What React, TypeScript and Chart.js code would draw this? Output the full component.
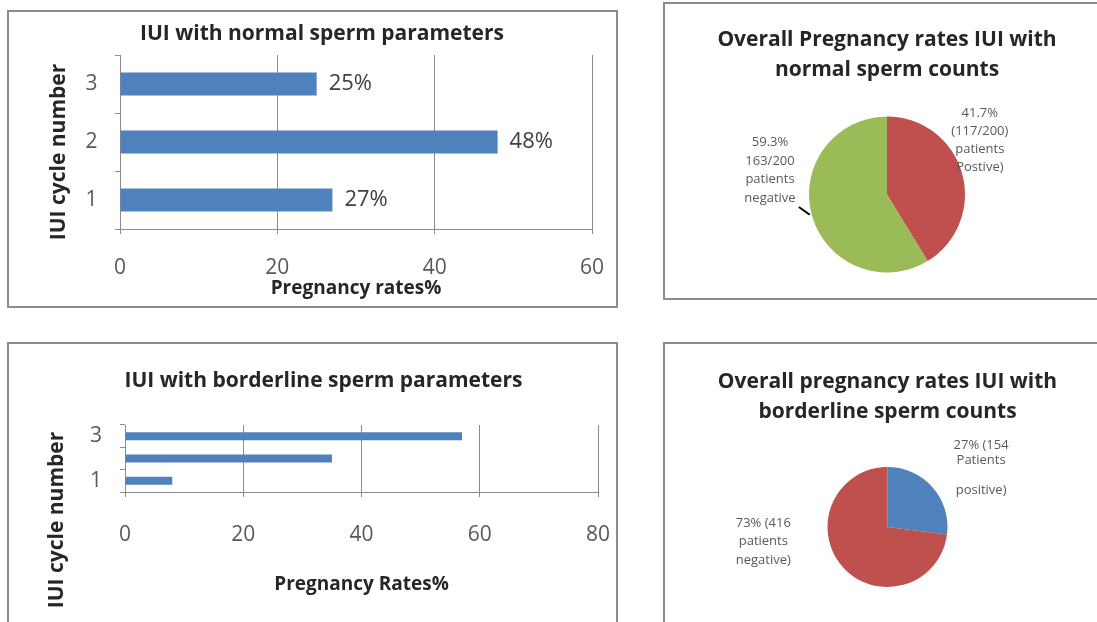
import React, { useEffect, useRef } from 'react';
import { Chart, registerables } from 'chart.js';

Chart.register(...registerables);

// ---------- data ----------
const cycleAxisTitle = 'IUI cycle number';

const normalTitle = 'IUI with normal sperm parameters';
const normalCycles = ['1', '2', '3'];
const normalRates = [27, 48, 25];
const normalRateLabels = ['27%', '48%', '25%'];
const normalAxisMax = 60;
const normalAxisStep = 20;
const normalXTitle = 'Pregnancy rates%';

const borderlineTitle = 'IUI with borderline sperm parameters';
const borderlineCycles = ['1', '2', '3'];
const borderlineRates = [8, 35, 57];
const borderlineAxisMax = 80;
const borderlineAxisStep = 20;
const borderlineXTitle = 'Pregnancy Rates%';

const normalPieTitle = ['Overall Pregnancy rates IUI with', 'normal sperm counts'];
const normalPieSlices = ['Positive', 'Negative'];
const normalPieValues = [41.7, 59.3];
const normalPieTexts = [
  ['41.7%', '(117/200)', 'patients', 'Postive)'],
  ['59.3%', '163/200', 'patients', 'negative'],
];

const borderPieTitle = ['Overall pregnancy rates IUI with', 'borderline sperm counts'];
const borderPieSlices = ['Positive', 'Negative'];
const borderPieValues = [27, 73];
const borderPieTexts = [
  ['27% (154', 'Patients', '', 'positive)'],
  ['73% (416', 'patients', 'negative)'],
];

// ---------- styles ----------
const FONT = "'Open Sans', sans-serif";
const BLUE = '#4f81bd';
const RED = '#c0504d';
const GREEN = '#9bbb59';
const TITLE_COLOR = '#262626';
const TICK_COLOR = '#595959';
const GRID_COLOR = '#8c8c8c';

// ---------- plugins ----------
const barValueLabels = {
  id: 'barValueLabels',
  afterDatasetsDraw(chart: any, _a: any, opts: any) {
    if (!opts || !opts.labels) return;
    const ctx = chart.ctx;
    const meta = chart.getDatasetMeta(0);
    ctx.save();
    ctx.font = `${opts.size}px ${FONT}`;
    ctx.fillStyle = opts.color;
    ctx.textAlign = 'left';
    ctx.textBaseline = 'middle';
    meta.data.forEach((bar: any, i: number) => {
      ctx.fillText(opts.labels[i], bar.x + opts.offset, bar.y);
    });
    ctx.restore();
  },
};

const sideTitle = {
  id: 'sideTitle',
  afterDraw(chart: any, _a: any, opts: any) {
    if (!opts || !opts.text) return;
    const ctx = chart.ctx;
    ctx.save();
    ctx.translate(opts.x, opts.y);
    ctx.rotate(-Math.PI / 2);
    ctx.font = `bold ${opts.size}px ${FONT}`;
    ctx.fillStyle = opts.color;
    ctx.textAlign = 'center';
    ctx.textBaseline = 'middle';
    ctx.fillText(opts.text, 0, 0);
    ctx.restore();
  },
};

const pieCallouts = {
  id: 'pieCallouts',
  afterDatasetsDraw(chart: any, _a: any, opts: any) {
    if (!opts || !opts.items) return;
    const ctx = chart.ctx;
    const meta = chart.getDatasetMeta(0);
    const arc = meta.data[0];
    const cx = arc.x;
    const cy = arc.y;
    const r = arc.outerRadius;
    ctx.save();
    ctx.font = `${opts.size}px ${FONT}`;
    ctx.fillStyle = opts.color;
    ctx.textAlign = 'center';
    ctx.textBaseline = 'middle';
    opts.items.forEach((item: any) => {
      const bx = cx + item.dx * r;
      const by = cy + item.dy * r;
      const total = (item.lines.length - 1) * item.lineHeight;
      item.lines.forEach((ln: string, k: number) => {
        ctx.fillText(ln, bx, by - total / 2 + k * item.lineHeight);
      });
      if (item.leader) {
        ctx.beginPath();
        ctx.strokeStyle = '#000';
        ctx.lineWidth = 2;
        ctx.moveTo(cx + item.leader[0] * r, cy + item.leader[1] * r);
        ctx.lineTo(cx + item.leader[2] * r, cy + item.leader[3] * r);
        ctx.stroke();
      }
    });
    ctx.restore();
  },
};

// ---------- configs ----------
function normalBarConfig(): any {
  return {
    type: 'bar',
    data: {
      labels: normalCycles,
      datasets: [
        { data: normalRates, backgroundColor: BLUE, barPercentage: 0.4, categoryPercentage: 1 },
      ],
    },
    plugins: [barValueLabels, sideTitle],
    options: {
      indexAxis: 'y',
      responsive: false,
      animation: false,
      layout: { padding: { left: 44, right: 25, top: 0, bottom: 0 } },
      plugins: {
        legend: { display: false },
        tooltip: { enabled: false },
        title: {
          display: true,
          text: normalTitle,
          color: TITLE_COLOR,
          font: { family: FONT, size: 21, weight: 'bold', lineHeight: 1.2 },
          padding: { top: 10, bottom: 8.8 },
        },
        barValueLabels: { labels: normalRateLabels, size: 22, color: '#404040', offset: 12 },
        sideTitle: { text: cycleAxisTitle, x: 51, y: 141, size: 21, color: TITLE_COLOR },
      },
      scales: {
        x: {
          min: 0,
          max: normalAxisMax,
          ticks: { stepSize: normalAxisStep, color: TICK_COLOR, padding: 21, font: { family: FONT, size: 21 } },
          grid: { color: GRID_COLOR, tickLength: 5 },
          border: { color: GRID_COLOR },
          title: {
            display: true,
            text: normalXTitle,
            color: TITLE_COLOR,
            font: { family: FONT, size: 19, weight: 'bold', lineHeight: 1.2 },
            padding: { top: 0, bottom: 7 },
          },
          afterFit: (s: any) => {
            s.height = 78;
            s.paddingLeft = 0;
            s.paddingRight = 0;
          },
        },
        y: {
          reverse: true,
          ticks: { color: TICK_COLOR, padding: 17.5, font: { family: FONT, size: 21 } },
          grid: { drawOnChartArea: false, color: GRID_COLOR, tickLength: 5 },
          border: { color: GRID_COLOR },
          afterFit: (s: any) => { s.width = 68; },
        },
      },
    },
  };
}

function borderlineBarConfig(): any {
  return {
    type: 'bar',
    data: {
      labels: borderlineCycles,
      datasets: [
        { data: borderlineRates, backgroundColor: BLUE, barPercentage: 0.36, categoryPercentage: 1 },
      ],
    },
    plugins: [sideTitle],
    options: {
      indexAxis: 'y',
      responsive: false,
      animation: false,
      layout: { padding: { left: 41, right: 19, top: 0, bottom: 0 } },
      plugins: {
        legend: { display: false },
        tooltip: { enabled: false },
        title: {
          display: true,
          text: borderlineTitle,
          color: TITLE_COLOR,
          font: { family: FONT, size: 21, weight: 'bold', lineHeight: 1.2 },
          padding: { top: 25.4, bottom: 31.4 },
        },
        sideTitle: { text: cycleAxisTitle, x: 49, y: 177, size: 21, color: TITLE_COLOR },
      },
      scales: {
        x: {
          min: 0,
          max: borderlineAxisMax,
          ticks: { stepSize: borderlineAxisStep, color: TICK_COLOR, padding: 25, font: { family: FONT, size: 21 } },
          grid: { color: GRID_COLOR, tickLength: 5 },
          border: { color: GRID_COLOR },
          title: {
            display: true,
            text: borderlineXTitle,
            color: TITLE_COLOR,
            font: { family: FONT, size: 19, weight: 'bold', lineHeight: 1.2 },
            padding: { top: 0, bottom: 25.6 },
          },
          afterFit: (s: any) => {
            s.height = 130;
            s.paddingLeft = 0;
            s.paddingRight = 0;
          },
        },
        y: {
          reverse: true,
          ticks: {
            color: TICK_COLOR,
            padding: 18,
            autoSkip: false,
            font: { family: FONT, size: 21 },
            callback: (_v: any, i: number) => (i % 2 === 1 ? '' : borderlineCycles[i]),
          },
          grid: { drawOnChartArea: false, color: GRID_COLOR, tickLength: 5 },
          border: { color: GRID_COLOR },
          afterFit: (s: any) => { s.width = 76; },
        },
      },
    },
  };
}

function normalPieConfig(): any {
  return {
    type: 'pie',
    data: {
      labels: normalPieSlices,
      datasets: [
        { data: normalPieValues, backgroundColor: [RED, GREEN], borderWidth: 0, hoverOffset: 0 },
      ],
    },
    plugins: [pieCallouts],
    options: {
      responsive: false,
      animation: false,
      layout: { padding: { left: 13, right: 0, top: 0, bottom: 26.5 } },
      plugins: {
        legend: { display: false },
        tooltip: { enabled: false },
        title: {
          display: true,
          text: normalPieTitle,
          color: TITLE_COLOR,
          font: { family: FONT, size: 21, weight: 'bold', lineHeight: 30 / 21 },
          padding: { top: 22, bottom: 31.5 },
        },
        pieCallouts: {
          size: 13,
          color: '#595959',
          items: [
            { lines: normalPieTexts[0], dx: 1.19, dy: -0.7, lineHeight: 18 },
            { lines: normalPieTexts[1], dx: -1.5, dy: -0.31, lineHeight: 18.5, leader: [-1.13, 0.16, -0.99, 0.26] },
          ],
        },
      },
    },
  };
}

function borderPieConfig(): any {
  return {
    type: 'pie',
    data: {
      labels: borderPieSlices,
      datasets: [
        { data: borderPieValues, backgroundColor: [BLUE, RED], borderWidth: 0, hoverOffset: 0 },
      ],
    },
    plugins: [pieCallouts],
    options: {
      responsive: false,
      animation: false,
      layout: { padding: { left: 14, right: 0, top: 0, bottom: 35 } },
      plugins: {
        legend: { display: false },
        tooltip: { enabled: false },
        title: {
          display: true,
          text: borderPieTitle,
          color: TITLE_COLOR,
          font: { family: FONT, size: 21, weight: 'bold', lineHeight: 30 / 21 },
          padding: { top: 24.5, bottom: 39.5 },
        },
        pieCallouts: {
          size: 13,
          color: '#595959',
          items: [
            { lines: borderPieTexts[0], dx: 1.56, dy: -0.99, lineHeight: 15 },
            { lines: borderPieTexts[1], dx: -2.07, dy: 0.24, lineHeight: 18.5 },
          ],
        },
      },
    },
  };
}

// ---------- components ----------
type PanelProps = {
  left: number;
  top: number;
  width: number;
  height: number;
  frameW: number;
  frameH: number;
  make: () => any;
};

function Panel({ left, top, width, height, frameW, frameH, make }: PanelProps) {
  const ref = useRef<HTMLCanvasElement>(null);
  useEffect(() => {
    const chart = new Chart(ref.current as HTMLCanvasElement, make());
    return () => chart.destroy();
  }, []);
  return (
    <>
      <canvas
        ref={ref}
        width={width}
        height={height}
        style={{ position: 'absolute', left, top, width, height }}
      />
      <div
        style={{
          position: 'absolute',
          left: left - 1,
          top: top - 1,
          width: frameW,
          height: frameH,
          border: '2px solid #8c8c8c',
          boxSizing: 'border-box',
          pointerEvents: 'none',
        }}
      />
    </>
  );
}

export default function App() {
  return (
    <div
      style={{
        position: 'fixed',
        left: 0,
        top: 0,
        width: 1097,
        height: 622,
        overflow: 'hidden',
        background: '#ffffff',
      }}
    >
      <Panel left={8} top={11} width={609} height={296} frameW={611} frameH={298} make={normalBarConfig} />
      <Panel left={664} top={3} width={433} height={296} frameW={450} frameH={298} make={normalPieConfig} />
      <Panel left={8} top={343} width={609} height={279} frameW={611} frameH={300} make={borderlineBarConfig} />
      <Panel left={664} top={343} width={433} height={279} frameW={450} frameH={300} make={borderPieConfig} />
    </div>
  );
}
